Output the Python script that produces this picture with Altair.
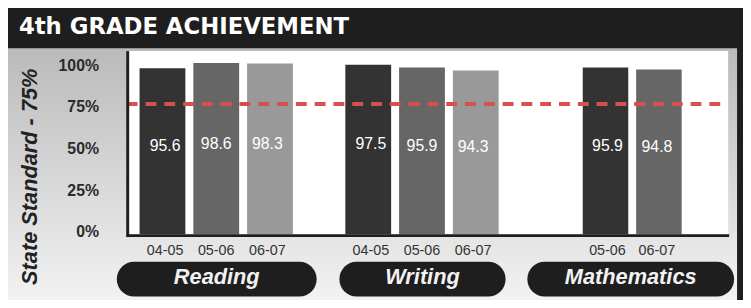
import altair as alt
import pandas as pd

# ---------------- data ----------------
TITLE = "4th GRADE ACHIEVEMENT"
Y_TITLE = "State Standard - 75%"
SUBJECTS = ["Reading", "Writing", "Mathematics"]
YEARS = {
    "Reading": ["04-05", "05-06", "06-07"],
    "Writing": ["04-05", "05-06", "06-07"],
    "Mathematics": ["05-06", "06-07"],
}
VALUES = {
    "Reading": [95.6, 98.6, 98.3],
    "Writing": [97.5, 95.9, 94.3],
    "Mathematics": [95.9, 94.8],
}
Y_TICKS = [0, 25, 50, 75, 100]
Y_TICK_LABELS = ["0%", "25%", "50%", "75%", "100%"]
STANDARD = 75

# ---------------- layout / style ----------------
W, H = 608, 185
PAD = {"left": 120, "top": 42, "right": 15, "bottom": 65}
BAR_DOMAIN = [0, 105.4]
LABEL_DOMAIN = [-1.2, 108.9]
GROUP_RANGE = {"Reading": [13, 168], "Writing": [221, 376], "Mathematics": [461, 561]}
PILL = {"Reading": [-10, 192], "Writing": [215, 383], "Mathematics": [405, 614]}
SHADES = ["#333333", "#666666", "#999999"]
FONT = "Liberation Sans"
DARK = "#1e1e1e"

one = pd.DataFrame({"k": [0]})
layers = []

# gray gradient panel
layers.append(
    alt.Chart(one).mark_rect(
        fill={"gradient": "linear", "x1": 0, "y1": 0, "x2": 0, "y2": 1,
              "stops": [{"offset": 0, "color": "#bababa"},
                        {"offset": 1, "color": "#f4f4f4"}]}
    ).encode(x=alt.value(-120), x2=alt.value(617), y=alt.value(-3), y2=alt.value(260))
)
# white plot box
layers.append(
    alt.Chart(one).mark_rect(fill="white").encode(
        x=alt.value(0), x2=alt.value(W), y=alt.value(0), y2=alt.value(H))
)
# header title
layers.append(
    alt.Chart(one).mark_text(text=TITLE, font="DejaVu Sans", fontWeight="bold", fontSize=23,
                             color="white", align="left", baseline="alphabetic")
    .encode(x=alt.value(-109), y=alt.value(-17))
)
# rotated y title
layers.append(
    alt.Chart(one).mark_text(text=Y_TITLE, font=FONT, fontWeight="bold", fontStyle="italic",
                             fontSize=22, color="#222222", angle=270, align="center",
                             baseline="alphabetic")
    .encode(x=alt.value(-91), y=alt.value(127))
)
# y tick labels (own scale)
ticks_df = pd.DataFrame({"v": Y_TICKS, "lab": Y_TICK_LABELS})
layers.append(
    alt.Chart(ticks_df).mark_text(font=FONT, fontWeight="bold", fontSize=16, color="#2a2a2a",
                                  align="right", baseline="middle").encode(
        y=alt.Y("v:Q", scale=alt.Scale(domain=LABEL_DOMAIN, nice=False, zero=False), axis=None),
        x=alt.value(-28),
        text="lab:N",
    )
)

ybar = alt.Scale(domain=BAR_DOMAIN, nice=False, zero=True)

for s in SUBJECTS:
    df = pd.DataFrame({
        "year": YEARS[s],
        "value": VALUES[s],
        "pos": list(range(len(YEARS[s]))),
    })
    df["half"] = df["value"] / 2
    xs = alt.X("year:N", sort=YEARS[s],
               scale=alt.Scale(range=GROUP_RANGE[s], paddingInner=0.148, paddingOuter=0),
               axis=None)
    base = alt.Chart(df)
    layers.append(
        base.mark_bar().encode(
            x=xs,
            y=alt.Y("value:Q", scale=ybar, axis=None),
            color=alt.Color("pos:O", scale=alt.Scale(domain=[0, 1, 2], range=SHADES), legend=None),
        )
    )
    layers.append(
        base.mark_text(color="white", fontSize=16, font=FONT, baseline="middle", dy=-5).encode(
            x=xs,
            y=alt.Y("half:Q", scale=ybar, axis=None),
            text=alt.Text("value:Q", format=".1f"),
        )
    )
    layers.append(
        base.mark_text(color="#333333", fontSize=14.5, font=FONT, baseline="middle").encode(
            x=xs, y=alt.value(202), text="year:N")
    )
    # pill
    layers.append(
        alt.Chart(one).mark_rect(fill=DARK, cornerRadius=17.5).encode(
            x=alt.value(PILL[s][0]), x2=alt.value(PILL[s][1]), y=alt.value(213), y2=alt.value(248))
    )
    layers.append(
        alt.Chart(one).mark_text(text=s, font=FONT, fontWeight="bold", fontStyle="italic",
                                 fontSize=22, color="#f2f2f2", align="center", baseline="alphabetic")
        .encode(x=alt.value((PILL[s][0] + PILL[s][1]) / 2), y=alt.value(235))
    )

# dashed state-standard line
layers.append(
    alt.Chart(one).mark_rule(color="#d65050", strokeWidth=4, strokeDash=[11, 8]).encode(
        y=alt.datum(STANDARD, scale=ybar), x=alt.value(0), x2=alt.value(W))
)
# left border and bottom axis line
layers.append(
    alt.Chart(one).mark_rule(color=DARK, strokeWidth=3).encode(
        x=alt.value(1), y=alt.value(0), y2=alt.value(H + 3))
)
layers.append(
    alt.Chart(one).mark_rule(color=DARK, strokeWidth=3).encode(
        y=alt.value(H + 1.5), x=alt.value(0), x2=alt.value(W + 1))
)

chart = (
    alt.layer(*layers)
    .resolve_scale(x="independent", y="independent")
    .properties(width=W, height=H, padding=PAD,
                autosize=alt.AutoSizeParams(type="none"), background=DARK)
    .configure_view(strokeWidth=0)
)

chart.save("out.html", embed_options={"renderer": "svg", "actions": False})
